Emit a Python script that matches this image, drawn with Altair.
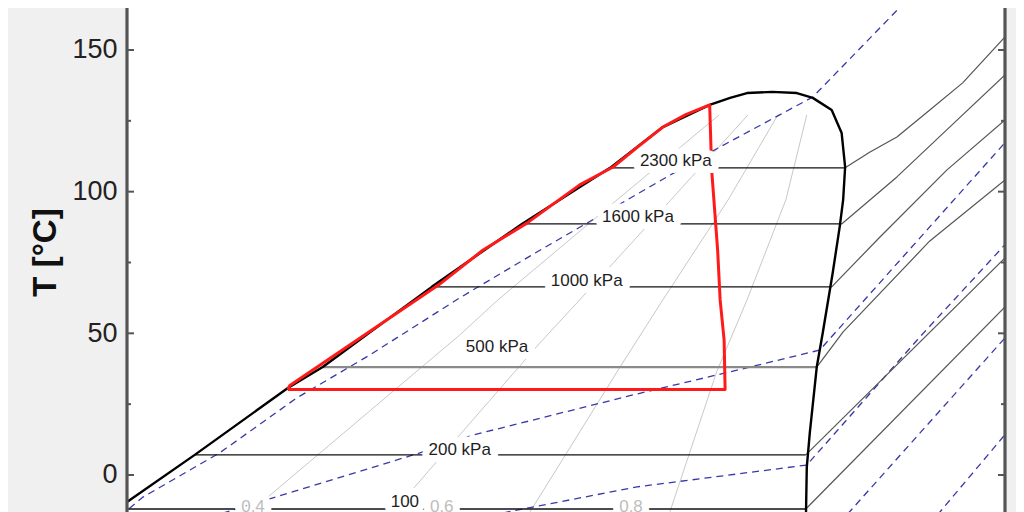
import altair as alt
import pandas as pd

# ---------------- data (s = entropy, T = temperature in °C) ----------------
major_ticks = [0, 50, 100, 150]
minor_ticks = [25, 75, 125]

# saturation dome: liquid line -> critical region -> vapour line
dome_s = [0.876, 0.938, 1.074, 1.261, 1.331, 1.550, 1.731, 1.908, 2.014, 2.108, 2.149, 2.183,
          2.233, 2.283, 2.315, 2.353, 2.373, 2.380, 2.376, 2.369, 2.355, 2.335, 2.323, 2.309,
          2.303, 2.301]
dome_T = [-16.9, -9.5, 7.1, 30.7, 38.1, 66.4, 88.6, 108.4, 122.8, 130.6, 133.1, 134.8,
          135.2, 134.8, 133.1, 128.8, 120.7, 108.7, 97.1, 87.5, 71.3, 50.1, 38.1, 14.8,
          2.8, -17.6]

# isobars inside the dome (constant temperature)
iso_names = ["2300 kPa", "1600 kPa", "1000 kPa", "200 kPa", "100 kPa"]
iso_T = [108.4, 88.6, 66.4, 7.1, -12.0]
iso_s_liq = [1.908, 1.731, 1.550, 1.074, 0.914]
iso_s_vap = [2.380, 2.373, 2.353, 2.301, 2.301]
iso500_T = 38.1
iso500_s = [1.331, 2.323]

# isobars in the superheated region
sh_2300_s = [2.380, 2.430, 2.484, 2.550, 2.616, 2.701]
sh_2300_T = [108.4, 114.0, 119.3, 128.8, 138.4, 154.6]
sh_1600_s = [2.373, 2.484, 2.584, 2.701]
sh_1600_T = [88.6, 105.2, 121.8, 141.2]
sh_1000_s = [2.353, 2.450, 2.584, 2.701]
sh_1000_T = [66.4, 84.0, 107.6, 125.3]
sh_500_s = [2.323, 2.376, 2.550, 2.701]
sh_500_T = [38.1, 50.5, 82.6, 104.1]
sh_200_s = [2.301, 2.701]
sh_200_T = [7.1, 76.6]
sh_100_s = [2.301, 2.701]
sh_100_T = [-12.0, 59.3]

# quality lines
q02_s = [1.155, 1.185, 1.606, 1.683, 1.922, 2.127]
q02_T = [-17.6, -13.1, 49.4, 61.8, 97.1, 127.1]
q04_s = [1.450, 1.514, 1.606, 1.767, 1.847, 2.030, 2.185]
q04_T = [-17.6, -4.6, 14.1, 46.6, 61.8, 97.1, 127.1]
q06_s = [1.731, 1.747, 1.928, 2.014, 2.145, 2.245]
q06_T = [-17.6, -13.1, 38.1, 61.8, 97.1, 127.1]
q08_s = [2.020, 2.028, 2.122, 2.183, 2.261, 2.303]
q08_T = [-17.6, -13.1, 36.4, 61.8, 97.1, 127.1]

# constant-volume lines (blue dashed)
v1_s = [0.924, 0.970, 1.124, 1.279, 1.426, 1.606, 1.761, 2.022, 2.129, 2.315, 2.504, 2.540]
v1_T = [-14.5, -7.8, 7.8, 27.2, 42.4, 62.5, 78.7, 105.2, 115.8, 133.4, 167.6, 174.0]
v2_s = [1.084, 1.231, 1.526, 1.633, 1.962, 2.189, 2.329, 2.697, 2.715]
v2_T = [-15.9, -8.1, 7.8, 14.1, 28.6, 38.1, 44.1, 116.5, 120.0]
v3_s = [1.647, 1.701, 1.962, 2.303, 2.530, 2.691, 2.715]
v3_T = [-15.2, -13.1, -4.2, 3.5, 48.7, 79.4, 84.0]
v4_s = [2.369, 2.697, 2.715]
v4_T = [-16.9, 47.6, 51.2]
v5_s = [2.550, 2.697, 2.715]
v5_T = [-17.3, 13.4, 16.9]

# cycle (red)
cyc_s = [1.261, 1.265, 1.564, 1.653, 1.741, 1.847, 1.914, 1.965, 2.014, 2.060, 2.108, 2.112,
         2.124, 2.129, 2.137, 2.139, 1.261]
cyc_T = [30.2, 31.6, 67.1, 79.4, 88.9, 102.4, 108.7, 116.0, 122.8, 127.2, 130.6, 107.6,
         79.4, 61.8, 47.6, 30.2, 30.2]

# labels
p_labels = ["2300 kPa", "1600 kPa", "1000 kPa", "500 kPa", "200 kPa", "100"]
p_lab_s = [2.040, 1.964, 1.861, 1.681, 1.606, 1.496]
p_lab_T = [110.8, 91.1, 68.5, 45.2, 8.8, -9.5]
q_labels = ["0.4", "0.6", "0.8"]
q_lab_s = [1.191, 1.570, 1.950]
q_lab_T = [-11.3, -11.3, -11.3]

# ---------------- chart ----------------
W, H = 878, 512
S_MIN, S_MAX = 0.938, 2.701
T_TOP = 164.82
T_BOT = -15.89


def frame(groups):
    rows = []
    for g, (ss, tt) in groups.items():
        for i, (a, b) in enumerate(zip(ss, tt)):
            rows.append({"g": g, "o": i, "s": a, "T": b})
    return pd.DataFrame(rows)


xs = alt.Scale(domain=[S_MIN, S_MAX], nice=False, zero=False)
ys = alt.Scale(domain=[T_BOT, T_TOP], nice=False, zero=False)
yaxis = alt.Axis(values=major_ticks, ticks=False, tickSize=0, domain=False, grid=False,
                 labelFont="Arial", labelFontSize=27, labelColor="#222222", labelPadding=10,
                 labelFlush=False,
                 title="T [°C]", titleFont="Arial", titleFontSize=33, titleFontWeight="bold",
                 titleColor="#111111", titleAngle=270, titleAlign="center",
                 titleBaseline="middle", titleX=-82, titleY=244)
X = alt.X("s:Q", scale=xs, axis=None)
Y = alt.Y("T:Q", scale=ys, axis=yaxis)


def lines(df, color, width, dash=None):
    kw = dict(clip=True, color=color, strokeWidth=width, strokeJoin="round")
    if dash:
        kw["strokeDash"] = dash
    return alt.Chart(df).mark_line(**kw).encode(x=X, y=Y, detail="g:N", order="o:Q")


quality = frame({"q2": (q02_s, q02_T), "q4": (q04_s, q04_T),
                 "q6": (q06_s, q06_T), "q8": (q08_s, q08_T)})
vol = frame({"v1": (v1_s, v1_T), "v2": (v2_s, v2_T), "v3": (v3_s, v3_T),
             "v4": (v4_s, v4_T), "v5": (v5_s, v5_T)})
iso_in = frame({n: ([a, b], [t, t]) for n, a, b, t in zip(iso_names, iso_s_liq, iso_s_vap, iso_T)})
iso500 = frame({"500 kPa": (iso500_s, [iso500_T, iso500_T])})
iso_sh = frame({"2300": (sh_2300_s, sh_2300_T), "1600": (sh_1600_s, sh_1600_T),
                "1000": (sh_1000_s, sh_1000_T), "500": (sh_500_s, sh_500_T),
                "200": (sh_200_s, sh_200_T), "100": (sh_100_s, sh_100_T)})
dome = frame({"dome": (dome_s, dome_T)})
cycle = frame({"cycle": (cyc_s, cyc_T)})

plab = pd.DataFrame({"label": p_labels, "s": p_lab_s, "T": p_lab_T})
qlab = pd.DataFrame({"label": q_labels, "s": q_lab_s, "T": q_lab_T})

major_df = pd.DataFrame({"T": major_ticks})
minor_df = pd.DataFrame({"T": minor_ticks})
frame_color = "#555555"
ticks = [
    alt.Chart(major_df).mark_rule(color=frame_color, strokeWidth=2).encode(y=Y, x=alt.value(0), x2=alt.value(7)),
    alt.Chart(minor_df).mark_rule(color=frame_color, strokeWidth=2).encode(y=Y, x=alt.value(0), x2=alt.value(4)),
    alt.Chart(major_df).mark_rule(color=frame_color, strokeWidth=2).encode(y=Y, x=alt.value(W - 7), x2=alt.value(W)),
    alt.Chart(minor_df).mark_rule(color=frame_color, strokeWidth=2).encode(y=Y, x=alt.value(W - 4), x2=alt.value(W)),
]
borders = [
    alt.Chart(major_df).mark_rule(color=frame_color, strokeWidth=2.4).encode(
        x=alt.value(0), y=alt.value(0), y2=alt.value(H)),
    alt.Chart(major_df).mark_rule(color=frame_color, strokeWidth=2.4).encode(
        x=alt.value(W), y=alt.value(0), y2=alt.value(H)),
]


def text_layer(df, color):
    halo = alt.Chart(df).mark_text(font="Arial", fontSize=17, color="white", stroke="white",
                                   strokeWidth=14, strokeJoin="round", baseline="middle",
                                   align="center", clip=True).encode(x=X, y=Y, text="label:N")
    txt = alt.Chart(df).mark_text(font="Arial", fontSize=17, color=color, baseline="middle",
                                  align="center", clip=True).encode(x=X, y=Y, text="label:N")
    return [halo, txt]


layers = [
    lines(quality, "#c8c8c8", 1),
    lines(vol, "#3838a8", 1.3, [7, 5]),
    lines(iso_sh, "#555555", 1.2),
    lines(iso_in, "#111111", 1.3),
    lines(iso500, "#8a8a8a", 2.2),
    lines(dome, "#000000", 2.4),
    lines(cycle, "#ff1a1a", 3),
] + text_layer(plab, "#1e1e1e") + text_layer(qlab, "#bdbdbd") + ticks + borders

chart = alt.layer(*layers).properties(
    width=W, height=H,
    padding={"left": 119, "top": 0, "right": 11, "bottom": 0},
    autosize=alt.AutoSizeParams(type="none"),
    background="#f0f0f0",
).configure_view(fill="white", strokeWidth=0)

chart.save("out.html", embed_options={"renderer": "svg", "actions": False})
